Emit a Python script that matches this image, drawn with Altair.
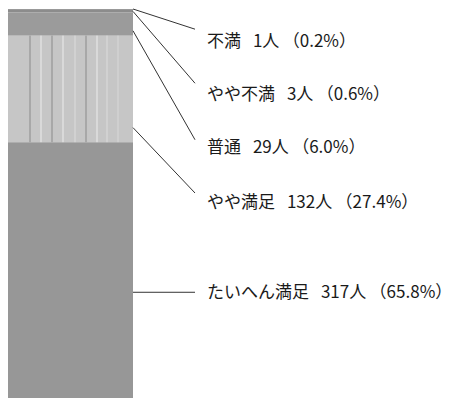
import altair as alt
import pandas as pd

categories = ["不満", "やや不満", "普通", "やや満足", "たいへん満足"]
counts = [1, 3, 29, 132, 317]
percents = ["0.2%", "0.6%", "6.0%", "27.4%", "65.8%"]
colors = ["#7e7e7e", "#8c8c8c", "#9b9b9b", "#c6c6c6", "#979797"]

# annotation layout (in count units of the bar's scale)
leader_from = [0, 3, 27, 147, 351]
leader_to = [25, 92, 162, 228, 351]
label_at = [41, 107, 172, 240, 352]

total = sum(counts)
ends = pd.Series(counts).cumsum().tolist()
starts = [e - c for e, c in zip(ends, counts)]

GAP = "\u2002\u2009"
df = pd.DataFrame({
    "cat": categories,
    "n": counts,
    "start": starts,
    "end": ends,
    "label": [f"{c}{GAP}{n}人\u2009（{p}）" for c, n, p in zip(categories, counts, percents)],
    "lf": leader_from,
    "lt": leader_to,
    "la": label_at,
})

yscale = alt.Scale(domain=[0, total], range=[9, 398], nice=False, zero=False)
cscale = alt.Scale(domain=categories, range=colors)

bar = alt.Chart(df).mark_bar(stroke=None).encode(
    x=alt.value(8), x2=alt.value(133),
    y=alt.Y("start:Q", scale=yscale, axis=None),
    y2="end:Q",
    color=alt.Color("cat:N", scale=cscale, legend=None),
)

# stripe texture inside the やや満足 segment
stripes = pd.DataFrame({
    "xs": [30, 41, 52, 63, 75, 86, 97, 107, 118],
    "col": ["#8a8a8a", "#ececec", "#8a8a8a", "#ececec", "#dcdcdc", "#8a8a8a", "#ececec", "#dcdcdc", "#d8d8d8"],
    "s": [starts[3]] * 9,
    "e": [ends[3]] * 9,
})
stripe = alt.Chart(stripes).mark_rule(strokeWidth=1).encode(
    x=alt.X("xs:Q", scale=None),
    y=alt.Y("s:Q", scale=yscale, axis=None),
    y2="e:Q",
    color=alt.Color("col:N", scale=None, legend=None),
)

leaders = alt.Chart(df).mark_rule(color="#333333", strokeWidth=1).encode(
    x=alt.value(133), x2=alt.value(195),
    y=alt.Y("lf:Q", scale=yscale, axis=None),
    y2="lt:Q",
)

labels = alt.Chart(df).mark_text(
    align="left", baseline="middle", font="Noto Sans CJK JP", fontSize=17, color="#1a1a1a"
).encode(
    x=alt.value(207),
    y=alt.Y("la:Q", scale=yscale, axis=None),
    text="label:N",
)

chart = alt.layer(bar, stripe, leaders, labels).properties(
    width=454, height=401, padding=0, autosize=alt.AutoSizeParams(type="none"),
    background="white",
).configure_view(stroke=None)

chart.save("out.html", embed_options={"renderer": "svg", "actions": False})
